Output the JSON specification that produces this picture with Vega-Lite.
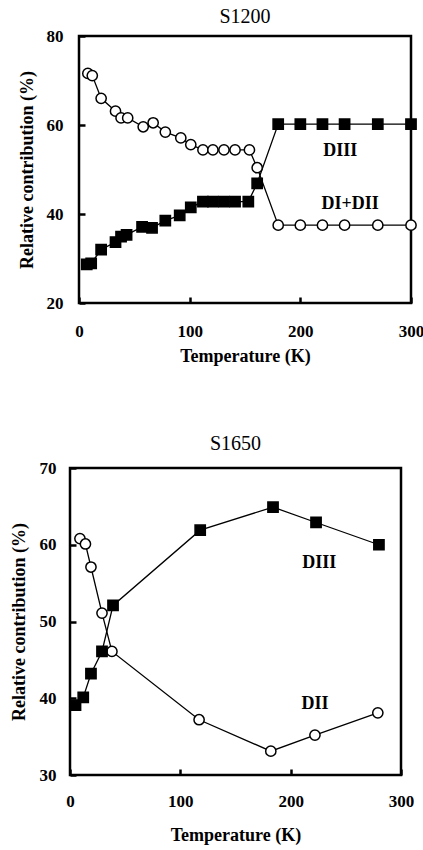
{
  "$schema": "https://vega.github.io/schema/vega-lite/v6.json",
  "padding": {"left": 8, "top": 5, "right": 5, "bottom": 5},
  "background": "white",
  "datasets": {
    "s1200": [
      {"series": "DI+DII", "T": 8, "value": 71.6},
      {"series": "DI+DII", "T": 12, "value": 71.1},
      {"series": "DI+DII", "T": 20, "value": 66.0},
      {"series": "DI+DII", "T": 33, "value": 63.1},
      {"series": "DI+DII", "T": 38, "value": 61.6},
      {"series": "DI+DII", "T": 44, "value": 61.6},
      {"series": "DI+DII", "T": 58, "value": 59.6},
      {"series": "DI+DII", "T": 67, "value": 60.5},
      {"series": "DI+DII", "T": 78, "value": 58.4},
      {"series": "DI+DII", "T": 92, "value": 57.1},
      {"series": "DI+DII", "T": 101, "value": 55.6},
      {"series": "DI+DII", "T": 112, "value": 54.4},
      {"series": "DI+DII", "T": 121, "value": 54.4},
      {"series": "DI+DII", "T": 131, "value": 54.4},
      {"series": "DI+DII", "T": 141, "value": 54.4},
      {"series": "DI+DII", "T": 154, "value": 54.4},
      {"series": "DI+DII", "T": 161, "value": 50.4},
      {"series": "DI+DII", "T": 180, "value": 37.5},
      {"series": "DI+DII", "T": 200, "value": 37.5},
      {"series": "DI+DII", "T": 220, "value": 37.5},
      {"series": "DI+DII", "T": 240, "value": 37.5},
      {"series": "DI+DII", "T": 270, "value": 37.5},
      {"series": "DI+DII", "T": 300, "value": 37.5},
      {"series": "DIII", "T": 7, "value": 28.7},
      {"series": "DIII", "T": 11, "value": 28.9},
      {"series": "DIII", "T": 20, "value": 32.0},
      {"series": "DIII", "T": 33, "value": 33.7},
      {"series": "DIII", "T": 38, "value": 34.9},
      {"series": "DIII", "T": 43, "value": 35.3},
      {"series": "DIII", "T": 57, "value": 37.1},
      {"series": "DIII", "T": 66, "value": 36.9},
      {"series": "DIII", "T": 78, "value": 38.5},
      {"series": "DIII", "T": 91, "value": 39.7},
      {"series": "DIII", "T": 101, "value": 41.5},
      {"series": "DIII", "T": 112, "value": 42.8},
      {"series": "DIII", "T": 121, "value": 42.8},
      {"series": "DIII", "T": 131, "value": 42.8},
      {"series": "DIII", "T": 141, "value": 42.8},
      {"series": "DIII", "T": 153, "value": 42.8},
      {"series": "DIII", "T": 161, "value": 46.9},
      {"series": "DIII", "T": 180, "value": 60.2},
      {"series": "DIII", "T": 200, "value": 60.2},
      {"series": "DIII", "T": 220, "value": 60.2},
      {"series": "DIII", "T": 240, "value": 60.2},
      {"series": "DIII", "T": 270, "value": 60.2},
      {"series": "DIII", "T": 300, "value": 60.2}
    ],
    "lab1200": [
      {"label": "DIII", "T": 236, "value": 54.2},
      {"label": "DI+DII", "T": 245, "value": 42.2}
    ],
    "s1650": [
      {"series": "DII", "T": 9, "value": 60.8},
      {"series": "DII", "T": 14, "value": 60.1},
      {"series": "DII", "T": 19, "value": 57.1},
      {"series": "DII", "T": 29, "value": 51.1},
      {"series": "DII", "T": 38, "value": 46.1},
      {"series": "DII", "T": 117, "value": 37.2},
      {"series": "DII", "T": 182, "value": 33.1},
      {"series": "DII", "T": 222, "value": 35.2},
      {"series": "DII", "T": 279, "value": 38.1},
      {"series": "DIII", "T": 5, "value": 39.1},
      {"series": "DIII", "T": 12, "value": 40.1},
      {"series": "DIII", "T": 19, "value": 43.2},
      {"series": "DIII", "T": 29, "value": 46.1},
      {"series": "DIII", "T": 39, "value": 52.1},
      {"series": "DIII", "T": 118, "value": 61.9},
      {"series": "DIII", "T": 184, "value": 64.9},
      {"series": "DIII", "T": 223, "value": 62.9},
      {"series": "DIII", "T": 280, "value": 60.0}
    ],
    "lab1650": [
      {"label": "DIII", "T": 226, "value": 57.6},
      {"label": "DII", "T": 222, "value": 39.2}
    ]
  },
  "config": {
    "font": "Liberation Serif",
    "view": {"stroke": "black", "strokeWidth": 2.5},
    "axis": {
      "domain": false,
      "grid": false,
      "ticks": true,
      "tickSize": -6,
      "tickWidth": 2.5,
      "tickColor": "black",
      "labelFont": "Liberation Serif",
      "labelFontWeight": "bold",
      "labelFontSize": 17,
      "labelColor": "black",
      "labelFlush": false,
      "titleFont": "Liberation Serif",
      "titleFontWeight": "bold",
      "titleFontSize": 18,
      "titleColor": "black"
    },
    "title": {"font": "Liberation Serif", "fontSize": 20, "fontWeight": "normal", "color": "black"}
  },
  "spacing": 65,
  "resolve": {"scale": {"shape": "independent", "fill": "independent"}},
  "vconcat": [
    {
      "spacing": 0,
      "bounds": "flush",
      "hconcat": [
        {
          "width": 9,
          "height": 10,
          "view": {"stroke": null},
          "data": {"values": []},
          "mark": "point",
          "encoding": {}
        },
        {
          "width": 332,
          "height": 267,
          "title": {"text": "S1200", "offset": 0.5},
          "data": {"name": "s1200"},
          "encoding": {
            "x": {"field": "T", "type": "quantitative", "scale": {"domain": [0, 300], "nice": false, "zero": false},
                  "axis": {"values": [0, 100, 200, 300], "title": "Temperature (K)", "labelPadding": 26, "titlePadding": 8}},
            "y": {"field": "value", "type": "quantitative", "scale": {"domain": [20, 80], "nice": false, "zero": false},
                  "axis": {"values": [20, 40, 60, 80], "title": "Relative contribution (%)", "labelPadding": 22, "titlePadding": 10}}
          },
          "layer": [
            {"mark": {"type": "line", "color": "black", "strokeWidth": 1.3},
             "encoding": {"detail": {"field": "series"}}},
            {"mark": {"type": "point", "filled": true, "stroke": "black", "strokeWidth": 1.5, "size": 105, "opacity": 1},
             "encoding": {
               "shape": {"field": "series", "scale": {"domain": ["DIII", "DI+DII"], "range": ["square", "circle"]}, "legend": null},
               "fill": {"field": "series", "scale": {"domain": ["DIII", "DI+DII"], "range": ["black", "white"]}, "legend": null}
             }},
            {"data": {"name": "lab1200"},
             "mark": {"type": "text", "font": "Liberation Serif", "fontWeight": "bold", "fontSize": 18, "color": "black", "align": "center", "baseline": "middle"},
             "encoding": {"text": {"field": "label"}}}
          ]
        }
      ]
    },
    {
      "width": 331,
      "height": 307,
      "title": {"text": "S1650", "offset": 5},
      "data": {"name": "s1650"},
      "encoding": {
        "x": {"field": "T", "type": "quantitative", "scale": {"domain": [0, 300], "nice": false, "zero": false},
              "axis": {"values": [0, 100, 200, 300], "title": "Temperature (K)", "labelPadding": 24, "titlePadding": 17}},
        "y": {"field": "value", "type": "quantitative", "scale": {"domain": [30, 70], "nice": false, "zero": false},
              "axis": {"values": [30, 40, 50, 60, 70], "title": "Relative contribution (%)", "labelPadding": 20, "titlePadding": 11}}
      },
      "layer": [
        {"mark": {"type": "line", "color": "black", "strokeWidth": 1.3},
         "encoding": {"detail": {"field": "series"}}},
        {"mark": {"type": "point", "filled": true, "stroke": "black", "strokeWidth": 1.5, "size": 105, "opacity": 1},
         "encoding": {
           "shape": {"field": "series", "scale": {"domain": ["DIII", "DII"], "range": ["square", "circle"]}, "legend": null},
           "fill": {"field": "series", "scale": {"domain": ["DIII", "DII"], "range": ["black", "white"]}, "legend": null}
         }},
        {"data": {"name": "lab1650"},
         "mark": {"type": "text", "font": "Liberation Serif", "fontWeight": "bold", "fontSize": 18, "color": "black", "align": "center", "baseline": "middle"},
         "encoding": {"text": {"field": "label"}}}
      ]
    }
  ]
}
